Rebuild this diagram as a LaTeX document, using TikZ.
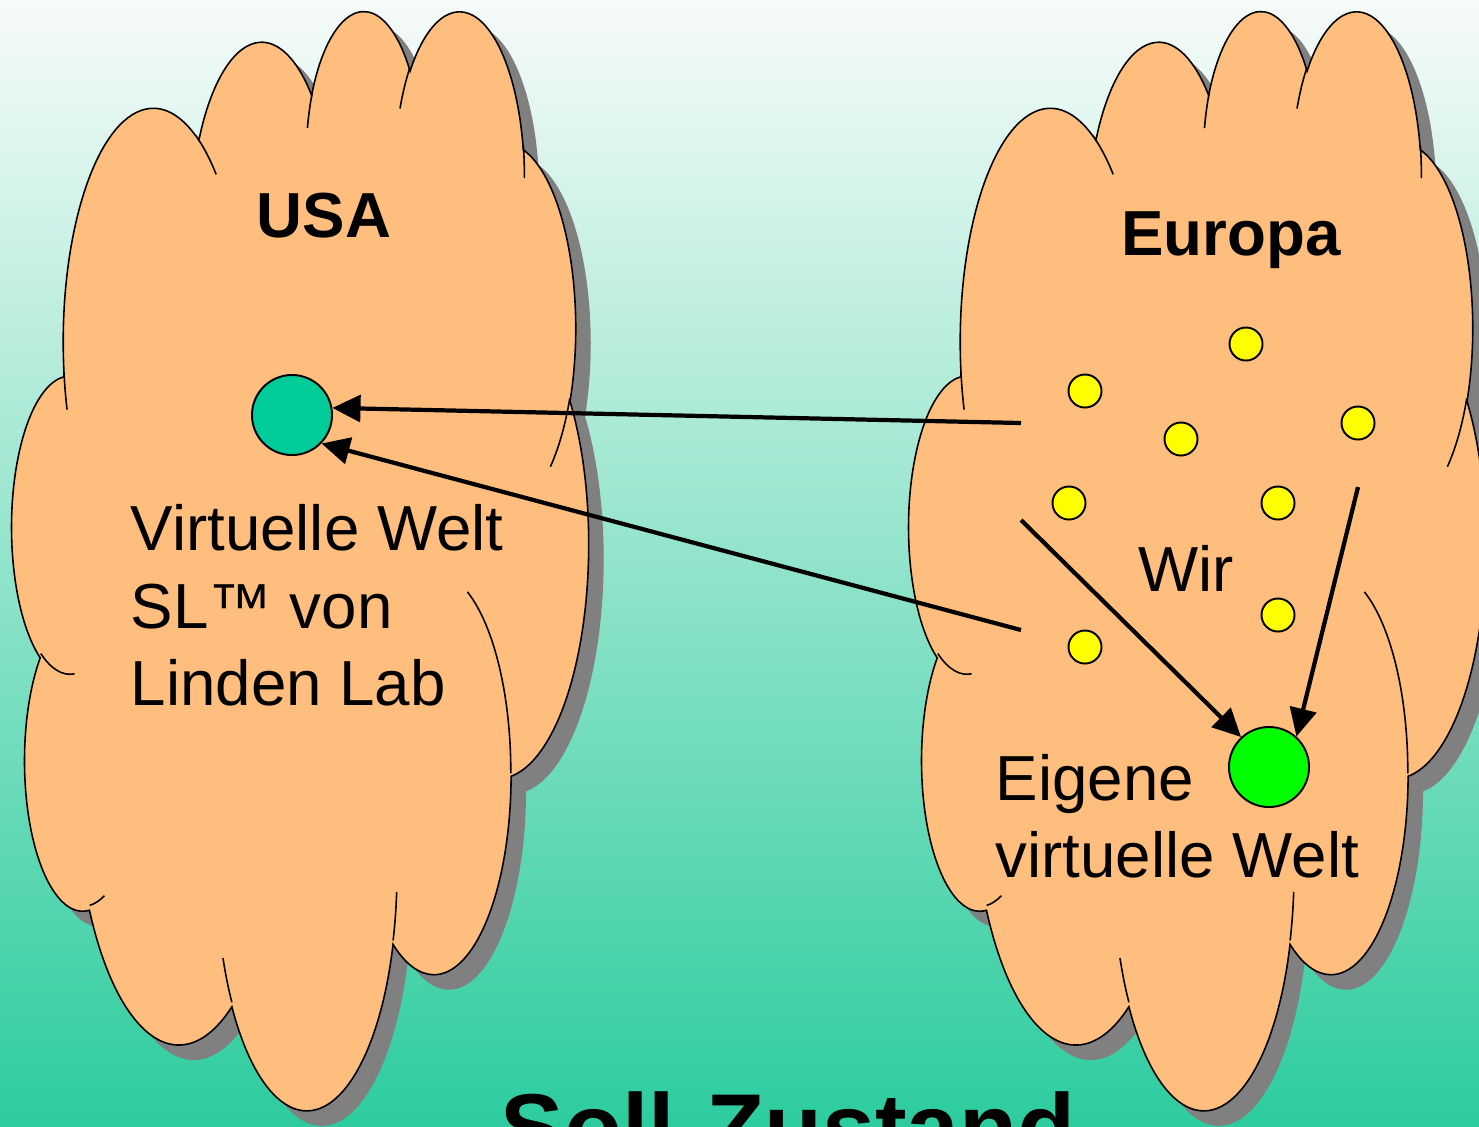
\documentclass[tikz,border=0pt]{standalone}
\usepackage{fontspec}
\setmainfont{Liberation Sans}
\usepackage{tikz}
\usetikzlibrary{arrows.meta, positioning}

\definecolor{bgtop}{RGB}{247,251,249}
\definecolor{bgmiddle}{RGB}{162,228,206}
\definecolor{bgbottom}{RGB}{44,204,158}
\definecolor{cloudorange}{RGB}{255,190,125}
\definecolor{shadowgray}{RGB}{128,128,128}
\definecolor{slteal}{RGB}{0,204,153}
\definecolor{owngreen}{RGB}{0,255,0}
\definecolor{wiryellow}{RGB}{255,255,0}

% one bump of the cloud: x radius, y radius, start angle, sweep (angles as seen, y down)
\newcommand{\cloudarc}[4]{arc[x radius=#1, y radius=#2,
  start angle={atan2(#1*sin(#3),#2*cos(#3))},
  delta angle={mod(atan2(#1*sin(#3+#4),#2*cos(#3+#4))-atan2(#1*sin(#3),#2*cos(#3))+720,360)}]}

% outline of a cloud in a 432 x 432 box
\newcommand{\cloudoutline}{(39.00,143.70)
  \cloudarc{67.53}{91.90}{-190.4875}{123.7805}
  \cloudarc{53.33}{72.67}{-144.1024}{89.9452}
  \cloudarc{43.65}{59.45}{-145.8079}{99.7230}
  \cloudarc{48.57}{65.95}{-130.9861}{117.2417}
  \cloudarc{53.33}{72.73}{-78.7089}{109.0269}
  \cloudarc{67.75}{92.20}{-46.2673}{130.2690}
  \cloudarc{57.85}{78.67}{0.6250}{114.0333}
  \cloudarc{67.52}{92.15}{22.4516}{115.1726}
  \cloudarc{77.20}{105.43}{66.2426}{75.7110}
  \cloudarc{43.60}{59.18}{-274.9421}{146.7356}
  \cloudarc{43.45}{59.45}{-246.8285}{152.5189} -- cycle}

% the short inner lines between the bumps
\newcommand{\cloudcreases}{
  (46.93,261.77) \cloudarc{43.45}{59.45}{86.7420}{26.4295}
  (69.28,348.99) \cloudarc{43.60}{59.18}{73.6105}{11.4475}
  (164.78,390.90) \cloudarc{67.52}{92.15}{137.6242}{14.0811}
  (288.27,347.51) \cloudarc{67.52}{92.15}{6.4533}{15.9984}
  (341.29,229.54) \cloudarc{57.85}{78.67}{-70.2924}{70.9174}
  (417.98,153.54) \cloudarc{53.33}{72.73}{30.3180}{27.7515}
  (383.24,54.26) \cloudarc{48.57}{65.95}{-13.7443}{14.8589}
  (290.78,39.52) \cloudarc{48.57}{65.95}{-149.1815}{18.1954}
  (221.41,47.20) \cloudarc{43.65}{59.45}{-163.4943}{17.6864}
  (140.00,51.92) \cloudarc{67.53}{91.90}{-66.7070}{12.3194}
  (41.27,157.89) \cloudarc{67.53}{91.90}{157.6544}{11.8582}}

\begin{document}
\begin{tikzpicture}[
  x=0.01cm, y=-0.01cm,
  cloudbox/.style={x=0.013333cm, y=-0.025417cm},
  cloudbody/.style={fill=cloudorange, draw=black, line width=0.45pt},
  crease/.style={draw=black, line width=0.45pt},
  cloudshadow/.style={fill=shadowgray},
  spot/.style={circle, draw=black, line width=0.55pt, inner sep=0pt},
  arr/.style={-{Triangle[length=8pt, width=7.6pt]}, line width=1.2pt},
  lbl/.style={font=\fontsize{18.1}{22}\selectfont, inner sep=0pt, anchor=base west},
  head/.style={font=\fontsize{18.1}{22}\selectfont\bfseries, inner sep=0pt, anchor=base}
]
\path[use as bounding box] (0,0) rectangle (1479,1126);
\clip (0,0) rectangle (1479,1126);

% Background
\shade[top color=bgtop, middle color=bgmiddle, bottom color=bgbottom] (0,0) rectangle (1479,1126);

% Shadows
\begin{scope}[shift={(27,23)}, cloudbox]
  \path[cloudshadow] \cloudoutline;
\end{scope}
\begin{scope}[shift={(924,23)}, cloudbox]
  \path[cloudshadow] \cloudoutline;
\end{scope}

% USA cloud
\begin{scope}[shift={(12,8)}, cloudbox]
  \path[cloudbody] \cloudoutline;
  \path[crease] \cloudcreases;
\end{scope}

% Europa cloud
\begin{scope}[shift={(909,8)}, cloudbox]
  \path[cloudbody] \cloudoutline;
  \path[crease] \cloudcreases;
\end{scope}

% Worlds
\node[spot, fill=slteal, minimum size=0.8cm]   (sl)  at (292,415)  {};
\node[spot, fill=owngreen, minimum size=0.8cm] (own) at (1269,767) {};

% Wir
\node[spot, fill=wiryellow, minimum size=0.33cm] (w1) at (1246,344) {};
\node[spot, fill=wiryellow, minimum size=0.33cm] (w2) at (1085,391) {};
\node[spot, fill=wiryellow, minimum size=0.33cm] (w3) at (1181,439) {};
\node[spot, fill=wiryellow, minimum size=0.33cm] (w4) at (1358,423) {};
\node[spot, fill=wiryellow, minimum size=0.33cm] (w5) at (1069,503) {};
\node[spot, fill=wiryellow, minimum size=0.33cm] (w6) at (1278,503) {};
\node[spot, fill=wiryellow, minimum size=0.33cm] (w7) at (1278,615) {};
\node[spot, fill=wiryellow, minimum size=0.33cm] (w8) at (1085,647) {};

% Arrows
\coordinate (srcA) at (1021,423);
\coordinate (srcB) at (1021,630);
\coordinate (srcC) at (1021,520);
\coordinate (srcD) at (1358,487);
\draw[arr] (srcA) -- (sl.10);
\draw[arr] (srcB) -- (sl.-44);
\draw[arr] (srcC) -- (own.133);
\draw[arr] (srcD) -- (own.48);

% Labels
\node[head] (usa)    at (324,237)  {USA};
\node[head] (europa) at (1231,255) {Europa};
\node[lbl]  (vw1)    at (130,550)  {Virtuelle Welt};
\node[lbl]  (vw2)    at (130,628)  {SL™ von};
\node[lbl]  (vw3)    at (130,705)  {Linden Lab};
\node[lbl]  (wir)    at (1138,591) {Wir};
\node[lbl]  (own1)   at (995,800)  {Eigene};
\node[lbl]  (own2)   at (995,877)  {virtuelle Welt};
\node[lbl, font=\fontsize{27}{30}\selectfont\bfseries] (soll) at (500,1160) {Soll-Zustand};
\end{tikzpicture}
\end{document}
